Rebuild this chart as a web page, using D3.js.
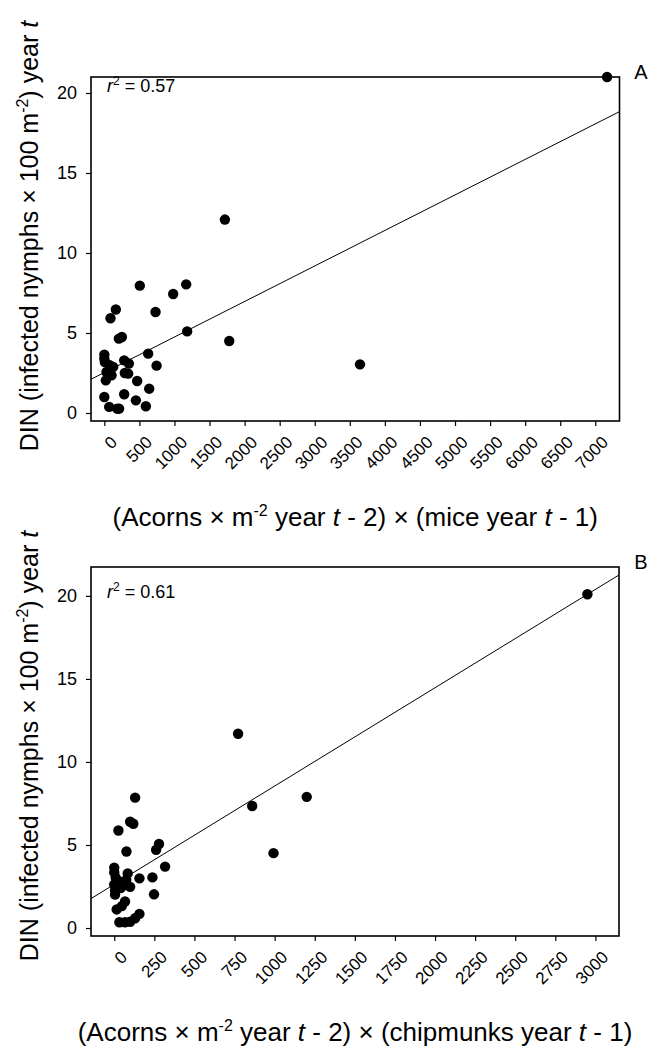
<!DOCTYPE html>
<html><head><meta charset="utf-8">
<script src="https://cdn.jsdelivr.net/npm/d3@7/dist/d3.min.js"></script>
<style>body{margin:0;background:#fff}svg{display:block}text{font-family:"Liberation Sans",Arial,sans-serif;fill:#000}</style>
</head><body>
<svg id="c" width="652" height="1047"></svg>
<script>
// Panel A: (acorns x mice) vs DIN
const xA = [164,88,730,1181,1781,207,250,625,0,0,7,283,350,78,126,745,31,103,292,340,21,468,640,0,283,450,592,69,183,211,1719,506,1167,982,3645,7168];
const yA = [6.47,5.92,6.31,5.1,4.5,4.65,4.75,3.71,3.65,3.4,3.19,3.29,3.09,2.98,2.88,2.96,2.56,2.36,2.5,2.46,2.04,2.0,1.52,1.0,1.17,0.79,0.42,0.38,0.27,0.27,12.09,7.96,8.04,7.44,3.04,21.0];
// Panel B: (acorns x chipmunks) vs DIN
const xB = [99,119,26,279,261,76,993,317,0,0,84,9,157,238,36,0,57,99,75,5,5,248,67,47,15,157,130,32,67,99,772,130,860,1200,2950,40];
const yB = [6.4,6.28,5.87,5.06,4.71,4.61,4.51,3.7,3.64,3.35,3.29,3.03,2.99,3.05,2.79,2.62,2.58,2.48,2.9,2.27,2.01,2.03,1.6,1.32,1.12,0.85,0.59,0.35,0.35,0.38,11.7,7.85,7.35,7.9,20.1,2.4];
const ticksA = [0,500,1000,1500,2000,2500,3000,3500,4000,4500,5000,5500,6000,6500,7000];
const ticksB = [0,250,500,750,1000,1250,1500,1750,2000,2250,2500,2750,3000];
const ticksY = [0,5,10,15,20];
const fitA = {intercept: 2.53, slope: 0.00222, r2: "0.57"};
const fitB = {intercept: 2.63, slope: 0.00592, r2: "0.61"};

const svg = d3.select("#c");

function panel(o){
  const g = svg.append("g");
  const x = d3.scaleLinear().domain(o.xd).range([o.left, o.right]);
  const y = d3.scaleLinear().domain(o.yd).range([o.bottom, o.top]);
  // points
  g.selectAll("circle.p").data(o.xs.map((v,i)=>[v,o.ys[i]])).join("circle")
    .attr("cx",d=>x(d[0])).attr("cy",d=>y(d[1])).attr("r",5.2).attr("fill","#000");
  // regression line clipped to frame
  const x0 = o.xd[0], x1 = o.xd[1];
  let xe = x1, ye = o.fit.intercept + o.fit.slope*x1;
  if (ye > o.yd[1]) { ye = o.yd[1]; xe = (ye - o.fit.intercept)/o.fit.slope; }
  g.append("line").attr("x1",x(x0)).attr("y1",y(o.fit.intercept+o.fit.slope*x0))
    .attr("x2",x(xe)).attr("y2",y(ye)).attr("stroke","#000").attr("stroke-width",1);
  // frame
  g.append("rect").attr("x",o.left).attr("y",o.top).attr("width",o.right-o.left).attr("height",o.bottom-o.top)
    .attr("fill","none").attr("stroke","#000").attr("stroke-width",1.6);
  // axes
  const ax = g.append("g").attr("transform",`translate(0,${o.bottom})`)
    .call(d3.axisBottom(x).tickValues(o.xt).tickSize(5).tickFormat(d3.format("d")));
  ax.select(".domain").remove();
  ax.selectAll("text").attr("y",null).attr("dy","0.7em")
    .style("font-size","17px").attr("text-anchor","end")
    .attr("transform","translate(5,14) rotate(-45)");
  const ay = g.append("g").attr("transform",`translate(${o.left},0)`)
    .call(d3.axisLeft(y).tickValues(ticksY).tickSize(5).tickPadding(9));
  ay.select(".domain").remove();
  ay.selectAll("text").style("font-size","18px");
  g.selectAll(".tick line").attr("stroke","#000").attr("stroke-width",1.2);
  // r2
  const t = g.append("text").attr("x",o.left+16).attr("y",o.top+o.r2Off).style("font-size","18px");
  t.append("tspan").attr("font-style","italic").text("r");
  t.append("tspan").attr("dy",-7).style("font-size","12px").text("2");
  t.append("tspan").attr("dy",7).text(" = "+o.fit.r2);
  // panel letter
  g.append("text").attr("x",641).attr("y",o.top+2).attr("text-anchor","middle").style("font-size","20px").text(o.letter);
  // y title
  const yt = g.append("text").attr("transform",`translate(38,${o.ytc}) rotate(-90)`).attr("text-anchor","middle").style("font-size","25px");
  yt.append("tspan").text("DIN (infected nymphs × 100 m");
  yt.append("tspan").attr("dy",-10).style("font-size","16px").text("-2");
  yt.append("tspan").attr("dy",10).text(") year ");
  yt.append("tspan").attr("font-style","italic").text("t");
  // x title
  const xt = g.append("text").attr("x",(o.left+o.right)/2).attr("y",o.xtb).attr("text-anchor","middle").style("font-size","26px");
  xt.append("tspan").text("(Acorns × m");
  xt.append("tspan").attr("dy",-10).style("font-size","16px").text("-2");
  xt.append("tspan").attr("dy",10).text(" year ");
  xt.append("tspan").attr("font-style","italic").text("t");
  xt.append("tspan").text(" - 2) × ("+o.animal+" year ");
  xt.append("tspan").attr("font-style","italic").text("t");
  xt.append("tspan").text(" - 1)");
}

panel({xs:xA, ys:yA, xd:[-190,7345], yd:[-0.5,21], left:91, right:619.5, top:77, bottom:421,
  xt:ticksA, fit:fitA, letter:"A", animal:"mice", xtb:526, ytc:236, r2Off:15});
panel({xs:xB, ys:yB, xd:[-145,3147], yd:[-0.48,21.74], left:91, right:619, top:567, bottom:936,
  xt:ticksB, fit:fitB, letter:"B", animal:"chipmunks", xtb:1041, ytc:746, r2Off:31});
</script>
</body></html>
